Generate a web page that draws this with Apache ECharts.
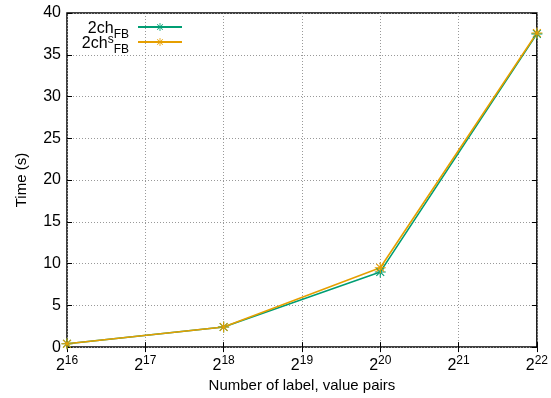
<!DOCTYPE html>
<html><head><meta charset="utf-8">
<script src="https://cdn.jsdelivr.net/npm/echarts@6/dist/echarts.min.js"></script>
<style>html,body{margin:0;padding:0;background:#fff}#c{width:551px;height:398px}</style>
</head><body><div id="c"></div>
<script>
// exponents of 2 for x
const xExp = [16, 18, 20, 22];
const series1Name = '2ch_FB';
const series2Name = '2ch^s_FB';
const series1 = [0.4, 2.4, 9.0, 37.5];
const series2 = [0.4, 2.4, 9.5, 37.6];
const yTicks = [0, 5, 10, 15, 20, 25, 30, 35, 40];

const asterisk = 'path://M9,0H11V20H9Z M0,9H20V11H0Z M2.2,3.6L3.6,2.2L17.8,16.4L16.4,17.8Z M16.4,2.2L17.8,3.6L3.6,17.8L2.2,16.4Z';
const font = 'Liberation Sans, Arial, sans-serif';
const chart = echarts.init(document.getElementById('c'));
const grid = {left: 67, right: 9, top: 13, bottom: 49};
function mk(name, data, color) {
  return {
    name: name, type: 'line', xAxisIndex: 0, yAxisIndex: 0,
    data: xExp.map((x, i) => [x, data[i]]),
    symbol: asterisk, symbolSize: 11,
    lineStyle: {color: color, width: 1.6},
    itemStyle: {color: color},
    animation: false
  };
}
chart.setOption({
  animation: false,
  grid: Object.assign({show: true, borderColor: '#000', borderWidth: 1.5}, grid),
  legend: {
    orient: 'vertical', right: 363, top: 14, align: 'right',
    itemWidth: 44, itemHeight: 10, itemGap: -7,
    data: [series1Name, series2Name],
    formatter: function (n) {
      return n === series1Name ? '{n|2ch}{sub|FB}' : '{n|2ch}{sup|s}{sub|FB}';
    },
    textStyle: {
      fontFamily: font, color: '#000', padding: [0, 4, 0, 0],
      rich: {
        n: {fontSize: 16, fontFamily: font, lineHeight: 16, verticalAlign: 'top', padding: [2, 0, 0, 0]},
        sub: {fontSize: 12, fontFamily: font, lineHeight: 12, verticalAlign: 'top', padding: [10, 0, 0, 0]},
        sup: {fontSize: 12, fontFamily: font, lineHeight: 12, verticalAlign: 'top', padding: [0, 0, 0, 0]}
      }
    }
  },
  xAxis: [{
    type: 'value', min: 16, max: 22, interval: 1,
    name: 'Number of label, value pairs', nameLocation: 'middle', nameGap: 22,
    nameTextStyle: {fontFamily: font, fontSize: 15, color: '#000'},
    axisLine: {show: false},
    axisTick: {show: true, inside: true, length: 5, lineStyle: {color: '#000'}},
    splitLine: {show: true, lineStyle: {color: '#999', type: [1, 2], width: 1}},
    axisLabel: {
      margin: 5,
      formatter: function (v) { return '{b|2}{s|' + v + '}'; },
      rich: {
        b: {fontSize: 16, fontFamily: font, color: '#000', lineHeight: 16, verticalAlign: 'top', padding: [5, 0, 0, 0]},
        s: {fontSize: 12, fontFamily: font, color: '#000', lineHeight: 12, verticalAlign: 'top', padding: [3, 0, 0, 0]}
      }
    }
  }, {
    type: 'value', min: 16, max: 22, interval: 1, position: 'top',
    axisLine: {show: false}, axisLabel: {show: false}, splitLine: {show: false},
    axisTick: {show: true, inside: true, length: 5, lineStyle: {color: '#000'}}
  }],
  yAxis: [{
    type: 'value', min: 0, max: 40, interval: 5,
    name: 'Time (s)', nameLocation: 'middle', nameGap: 38,
    nameTextStyle: {fontFamily: font, fontSize: 15, color: '#000'},
    axisLine: {show: false},
    axisTick: {show: true, inside: true, length: 5, lineStyle: {color: '#000'}},
    splitLine: {show: true, lineStyle: {color: '#999', type: [1, 2], width: 1}},
    axisLabel: {fontSize: 16, fontFamily: font, color: '#000', margin: 6,
      formatter: function (v) { return yTicks.indexOf(v) >= 0 ? String(v) : ''; }}
  }, {
    type: 'value', min: 0, max: 40, interval: 5, position: 'right',
    axisLine: {show: false}, axisLabel: {show: false}, splitLine: {show: false},
    axisTick: {show: true, inside: true, length: 5, lineStyle: {color: '#000'}}
  }],
  series: [mk(series1Name, series1, '#009e73'), mk(series2Name, series2, '#e69f00')]
});
</script></body></html>
